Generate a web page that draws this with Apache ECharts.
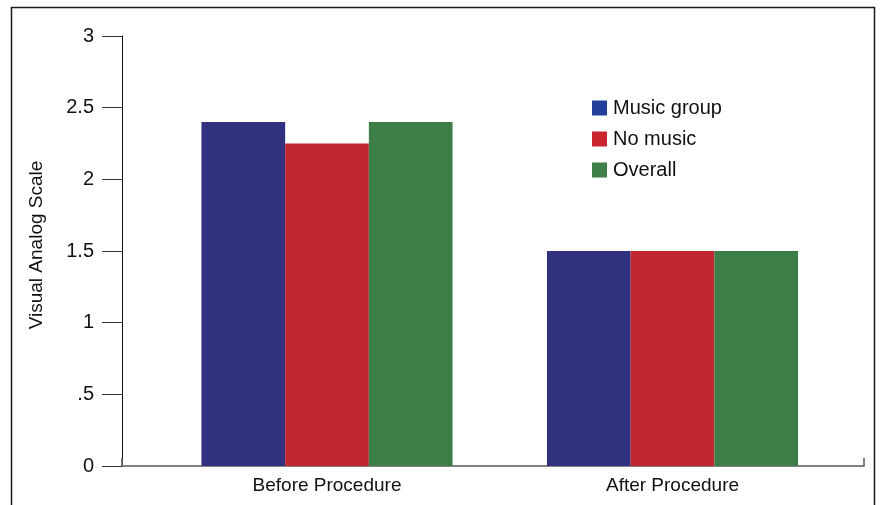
<!DOCTYPE html>
<html>
<head>
<meta charset="utf-8">
<script src="https://cdn.jsdelivr.net/npm/echarts@6/dist/echarts.min.js"></script>
<style>
  html, body { margin: 0; padding: 0; background: #ffffff; }
  #chart { width: 880px; height: 505px; }
</style>
</head>
<body>
<div id="chart"></div>
<script>
// Pain scores on the Visual Analog Scale, before and after the procedure
const categories = ['Before Procedure', 'After Procedure'];
const seriesNames = ['Music group', 'No music', 'Overall'];
const musicGroup = [2.4, 1.5];
const noMusic = [2.25, 1.5];
const overall = [2.4, 1.5];
const yTicks = [0, 0.5, 1, 1.5, 2, 2.5, 3];

const barColors = ['#313180', '#c1272f', '#3d7d47'];
const legendColors = ['#22409a', '#c8252f', '#3f7f4a'];
const values = [musicGroup, noMusic, overall];

const chart = echarts.init(document.getElementById('chart'), null, { renderer: 'canvas' });

const labelFont = 'Liberation Sans, Arial, Helvetica, sans-serif';

const option = {
  animation: false,
  backgroundColor: '#ffffff',
  graphic: [{
    type: 'rect',
    shape: { x: 11.5, y: 7.5, width: 863, height: 530 },
    style: { fill: 'none', stroke: '#1a1a1a', lineWidth: 1.5 },
    silent: true,
    z: 0
  }],
  grid: [
    // frame holding the visible axes
    { left: 122, right: 16, top: 36, bottom: 39 },
    // bar area
    { left: 154.25, right: 34.75, top: 36, bottom: 39 }
  ],
  legend: {
    orient: 'vertical',
    left: 587,
    top: 93,
    itemWidth: 15,
    itemHeight: 15,
    itemGap: 11,
    icon: 'rect',
    textStyle: {
      fontFamily: labelFont,
      fontSize: 20,
      color: '#111',
      padding: [0, 0, 0, 1]
    },
    data: seriesNames.map((n, i) => ({ name: n, itemStyle: { color: legendColors[i] } }))
  },
  xAxis: [
    {
      gridIndex: 0,
      type: 'value',
      min: 0,
      max: 1,
      interval: 1,
      axisLine: { show: true, lineStyle: { color: '#5a5a5a', width: 1.5 } },
      axisTick: { show: true, inside: true, length: 8, lineStyle: { color: '#5a5a5a', width: 1.5 } },
      axisLabel: { show: false },
      splitLine: { show: false }
    },
    {
      gridIndex: 1,
      type: 'category',
      data: categories,
      axisLine: { show: false },
      axisTick: { show: false },
      axisLabel: {
        margin: 10,
        fontFamily: labelFont,
        fontSize: 19,
        color: '#111'
      }
    }
  ],
  yAxis: [
    {
      gridIndex: 0,
      type: 'value',
      min: 0,
      max: 3,
      interval: 0.5,
      name: 'Visual Analog Scale',
      nameLocation: 'middle',
      nameGap: 76,
      nameTextStyle: {
        fontFamily: labelFont,
        fontSize: 19,
        color: '#111',
        padding: [0, 0, 0, 12]
      },
      axisLine: { show: true, lineStyle: { color: '#111', width: 1 } },
      axisTick: { show: true, length: 20, lineStyle: { color: '#333', width: 1 } },
      axisLabel: {
        margin: 28,
        fontFamily: labelFont,
        fontSize: 20,
        color: '#111',
        formatter: function (v) {
          const t = yTicks.find(x => Math.abs(x - v) < 1e-9);
          if (t === undefined) return '';
          return t === 0.5 ? '.5' : String(t);
        }
      },
      splitLine: { show: false }
    },
    {
      gridIndex: 1,
      type: 'value',
      min: 0,
      max: 3,
      show: false,
      splitLine: { show: false }
    }
  ],
  series: seriesNames.map((name, i) => ({
    name: name,
    type: 'bar',
    xAxisIndex: 1,
    yAxisIndex: 1,
    data: values[i],
    barWidth: 83.7,
    barGap: '0%',
    itemStyle: { color: barColors[i] }
  }))
};

chart.setOption(option);
</script>
</body>
</html>
